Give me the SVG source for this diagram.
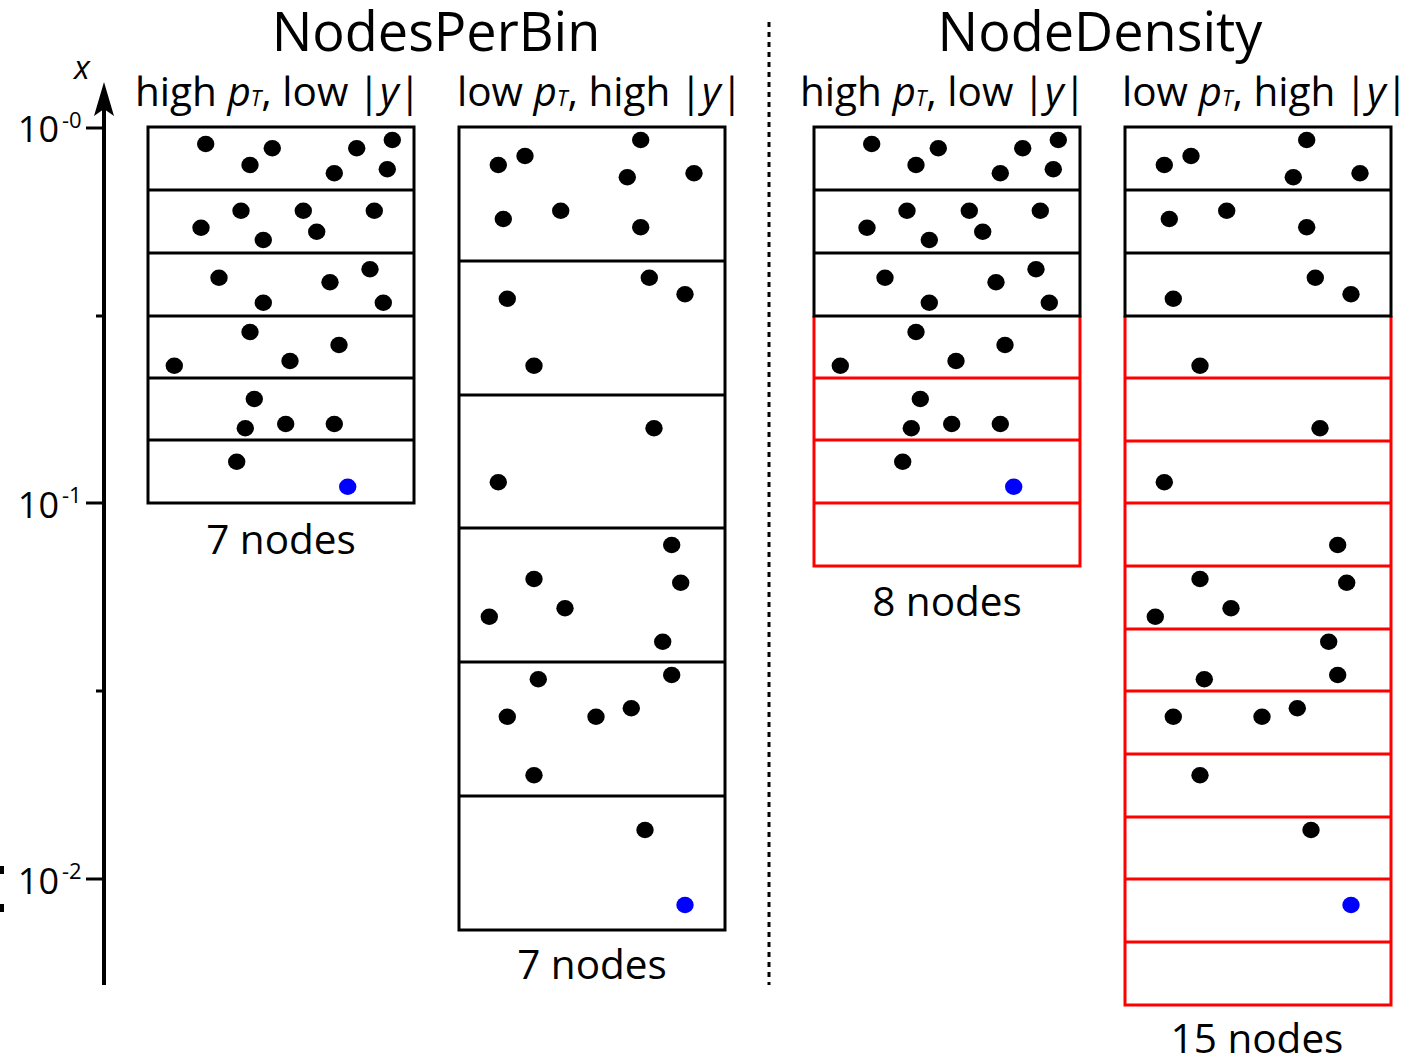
<svg xmlns="http://www.w3.org/2000/svg" width="1420" height="1059" viewBox="0 0 1420 1059">
<style>
text{font-family:"Open Sans","Noto Sans","DejaVu Sans",sans-serif;fill:#000}
.t{font-size:54px;text-anchor:middle}
.h{font-size:40.5px}
.n{font-size:40.5px;text-anchor:middle}
.tk{font-size:36px;text-anchor:end}
.sup{font-size:22px}
.sub{font-size:21px;font-style:italic}
.i{font-style:italic}
.box{fill:none;stroke:#000;stroke-width:3}
.rb{fill:none;stroke:#f00;stroke-width:3}
.bl{stroke:#000;stroke-width:3}
.rl{stroke:#f00;stroke-width:3}
.d{fill:#000}
.b{fill:#00f}
</style>
<defs>
<ellipse id="dot" cx="0" cy="0" rx="8.7" ry="8.2"/>
<g id="dotsA">
<use href="#dot" x="205.7" y="144" class="d"/>
<use href="#dot" x="272.3" y="148.3" class="d"/>
<use href="#dot" x="250" y="165" class="d"/>
<use href="#dot" x="356.7" y="148.3" class="d"/>
<use href="#dot" x="392.3" y="140" class="d"/>
<use href="#dot" x="334.3" y="173.3" class="d"/>
<use href="#dot" x="387.3" y="169.3" class="d"/>
<use href="#dot" x="241" y="210.7" class="d"/>
<use href="#dot" x="303.3" y="210.7" class="d"/>
<use href="#dot" x="374.3" y="210.7" class="d"/>
<use href="#dot" x="201" y="227.7" class="d"/>
<use href="#dot" x="316.7" y="231.7" class="d"/>
<use href="#dot" x="263.3" y="240" class="d"/>
<use href="#dot" x="219" y="277.7" class="d"/>
<use href="#dot" x="330" y="282.3" class="d"/>
<use href="#dot" x="370" y="269.3" class="d"/>
<use href="#dot" x="263.3" y="302.7" class="d"/>
<use href="#dot" x="383.3" y="302.7" class="d"/>
<use href="#dot" x="250" y="332" class="d"/>
<use href="#dot" x="339" y="345" class="d"/>
<use href="#dot" x="290" y="361" class="d"/>
<use href="#dot" x="174.3" y="365.7" class="d"/>
<use href="#dot" x="254.3" y="399" class="d"/>
<use href="#dot" x="245.3" y="428.3" class="d"/>
<use href="#dot" x="285.7" y="424" class="d"/>
<use href="#dot" x="334.3" y="424" class="d"/>
<use href="#dot" x="236.7" y="461.7" class="d"/>
<use href="#dot" x="347.7" y="486.7" class="b"/>
</g>
<g id="dotsB">
<use href="#dot" x="640.7" y="140" class="d"/>
<use href="#dot" x="525" y="156" class="d"/>
<use href="#dot" x="498.3" y="165" class="d"/>
<use href="#dot" x="627.3" y="177.3" class="d"/>
<use href="#dot" x="694" y="173.3" class="d"/>
<use href="#dot" x="560.7" y="210.7" class="d"/>
<use href="#dot" x="503.3" y="219" class="d"/>
<use href="#dot" x="640.7" y="227.3" class="d"/>
<use href="#dot" x="649.3" y="277.7" class="d"/>
<use href="#dot" x="685" y="294.3" class="d"/>
<use href="#dot" x="507.3" y="298.7" class="d"/>
<use href="#dot" x="534" y="365.7" class="d"/>
<use href="#dot" x="654" y="428.3" class="d"/>
<use href="#dot" x="498.3" y="482.3" class="d"/>
<use href="#dot" x="671.7" y="545" class="d"/>
<use href="#dot" x="534" y="579" class="d"/>
<use href="#dot" x="680.7" y="582.7" class="d"/>
<use href="#dot" x="565" y="608.3" class="d"/>
<use href="#dot" x="489.3" y="616.7" class="d"/>
<use href="#dot" x="662.7" y="641.7" class="d"/>
<use href="#dot" x="671.7" y="675" class="d"/>
<use href="#dot" x="538.3" y="679.3" class="d"/>
<use href="#dot" x="631.3" y="708.3" class="d"/>
<use href="#dot" x="507.3" y="716.7" class="d"/>
<use href="#dot" x="596" y="716.7" class="d"/>
<use href="#dot" x="534" y="775.3" class="d"/>
<use href="#dot" x="645" y="830" class="d"/>
<use href="#dot" x="685" y="905" class="b"/>
</g>
</defs>
<rect width="1420" height="1059" fill="#fff"/>

<g id="axis">
<line x1="104" y1="985" x2="104" y2="105" stroke="#000" stroke-width="4"/>
<path d="M104 82 L114 116 L104 109 L94 116 Z" fill="#000"/>
<line x1="86" y1="128" x2="104" y2="128" class="bl"/>
<line x1="86" y1="503" x2="104" y2="503" class="bl"/>
<line x1="86" y1="879" x2="104" y2="879" class="bl"/>
<line x1="96" y1="316" x2="104" y2="316" class="bl"/>
<line x1="96" y1="691" x2="104" y2="691" class="bl"/>
<text x="82" y="79" class="i" font-size="33" text-anchor="middle">x</text>
<text x="59" y="142" class="tk">10</text><text x="62" y="128" class="sup">-0</text>
<text x="59" y="518" class="tk">10</text><text x="62" y="503" class="sup">-1</text>
<text x="59" y="894" class="tk">10</text><text x="62" y="879" class="sup">-2</text>
<rect x="0" y="866" width="4" height="8" fill="#000"/>
<rect x="0" y="904" width="4" height="8" fill="#000"/>
</g>

<g id="titles">
<text x="436" y="51" class="t">NodesPerBin</text>
<text x="1100" y="51" class="t">NodeDensity</text>
</g>

<g id="connectors">
<line x1="769" y1="22" x2="769" y2="985" stroke="#000" stroke-width="3" stroke-dasharray="5 5"/>
</g>

<g id="panel-npb-high">
<text x="135" y="106" class="h">high <tspan class="i">p</tspan><tspan class="sub">T</tspan>, low <tspan dx="-1">|</tspan><tspan class="i">y</tspan>|</text>
<rect x="148" y="127" width="266" height="376" class="box"/>
<line x1="148" y1="190" x2="414" y2="190" class="bl"/>
<line x1="148" y1="253" x2="414" y2="253" class="bl"/>
<line x1="148" y1="316" x2="414" y2="316" class="bl"/>
<line x1="148" y1="378" x2="414" y2="378" class="bl"/>
<line x1="148" y1="440" x2="414" y2="440" class="bl"/>
<use href="#dotsA"/>
<text x="281" y="554" class="n">7 nodes</text>
</g>

<g id="panel-npb-low">
<text x="457" y="106" class="h">low <tspan class="i">p</tspan><tspan class="sub">T</tspan>, high <tspan dx="-1">|</tspan><tspan class="i">y</tspan>|</text>
<rect x="459" y="127" width="266" height="803" class="box"/>
<line x1="459" y1="261" x2="725" y2="261" class="bl"/>
<line x1="459" y1="395" x2="725" y2="395" class="bl"/>
<line x1="459" y1="528" x2="725" y2="528" class="bl"/>
<line x1="459" y1="662" x2="725" y2="662" class="bl"/>
<line x1="459" y1="796" x2="725" y2="796" class="bl"/>
<use href="#dotsB"/>
<text x="592" y="979" class="n">7 nodes</text>
</g>

<g id="panel-nd-high">
<text x="800" y="106" class="h">high <tspan class="i">p</tspan><tspan class="sub">T</tspan>, low <tspan dx="-1">|</tspan><tspan class="i">y</tspan>|</text>
<path d="M814 316 V566 H1080 V316" class="rb"/>
<line x1="814" y1="378" x2="1080" y2="378" class="rl"/>
<line x1="814" y1="440" x2="1080" y2="440" class="rl"/>
<line x1="814" y1="503" x2="1080" y2="503" class="rl"/>
<rect x="814" y="127" width="266" height="189" class="box"/>
<line x1="814" y1="190" x2="1080" y2="190" class="bl"/>
<line x1="814" y1="253" x2="1080" y2="253" class="bl"/>
<use href="#dotsA" x="666"/>
<text x="947" y="616" class="n">8 nodes</text>
</g>

<g id="panel-nd-low">
<text x="1122" y="106" class="h">low <tspan class="i">p</tspan><tspan class="sub">T</tspan>, high <tspan dx="-1">|</tspan><tspan class="i">y</tspan>|</text>
<path d="M1125 316 V1005 H1391 V316" class="rb"/>
<line x1="1125" y1="378" x2="1391" y2="378" class="rl"/>
<line x1="1125" y1="441" x2="1391" y2="441" class="rl"/>
<line x1="1125" y1="503" x2="1391" y2="503" class="rl"/>
<line x1="1125" y1="566" x2="1391" y2="566" class="rl"/>
<line x1="1125" y1="629" x2="1391" y2="629" class="rl"/>
<line x1="1125" y1="691" x2="1391" y2="691" class="rl"/>
<line x1="1125" y1="754" x2="1391" y2="754" class="rl"/>
<line x1="1125" y1="817" x2="1391" y2="817" class="rl"/>
<line x1="1125" y1="879" x2="1391" y2="879" class="rl"/>
<line x1="1125" y1="942" x2="1391" y2="942" class="rl"/>
<rect x="1125" y="127" width="266" height="189" class="box"/>
<line x1="1125" y1="190" x2="1391" y2="190" class="bl"/>
<line x1="1125" y1="253" x2="1391" y2="253" class="bl"/>
<use href="#dotsB" x="666"/>
<text x="1257" y="1053" class="n">15 nodes</text>
</g>
</svg>
